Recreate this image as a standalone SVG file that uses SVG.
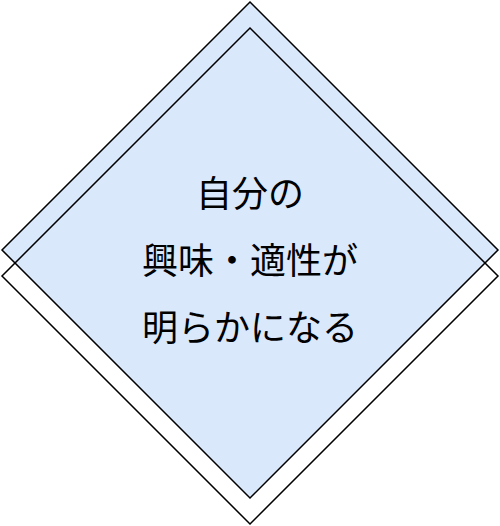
<svg xmlns="http://www.w3.org/2000/svg" width="500" height="526" viewBox="0 0 500 526">
<style>
.shape{stroke:#000;stroke-width:1.5;stroke-linejoin:miter}
.lbl{font-family:"Noto Sans CJK JP","Noto Sans CJK SC",sans-serif;font-size:36px;fill:#000;text-anchor:middle}
</style>
<rect width="500" height="526" fill="#fff"/>
<g id="diamond-fill">
<polygon class="shape" points="250,2 498,250 250,498 2,250" fill="#dae8fc"/>
</g>
<g id="diamond-outline">
<polygon class="shape" points="250,28 498,276 250,524 2,276" fill="none"/>
</g>
<g id="label">
<text class="lbl" x="250" y="207">自分の</text>
<text class="lbl" x="250" y="274">興味・適性が</text>
<text class="lbl" x="250" y="341">明らかになる</text>
</g>
<g id="connectors"></g>
</svg>
